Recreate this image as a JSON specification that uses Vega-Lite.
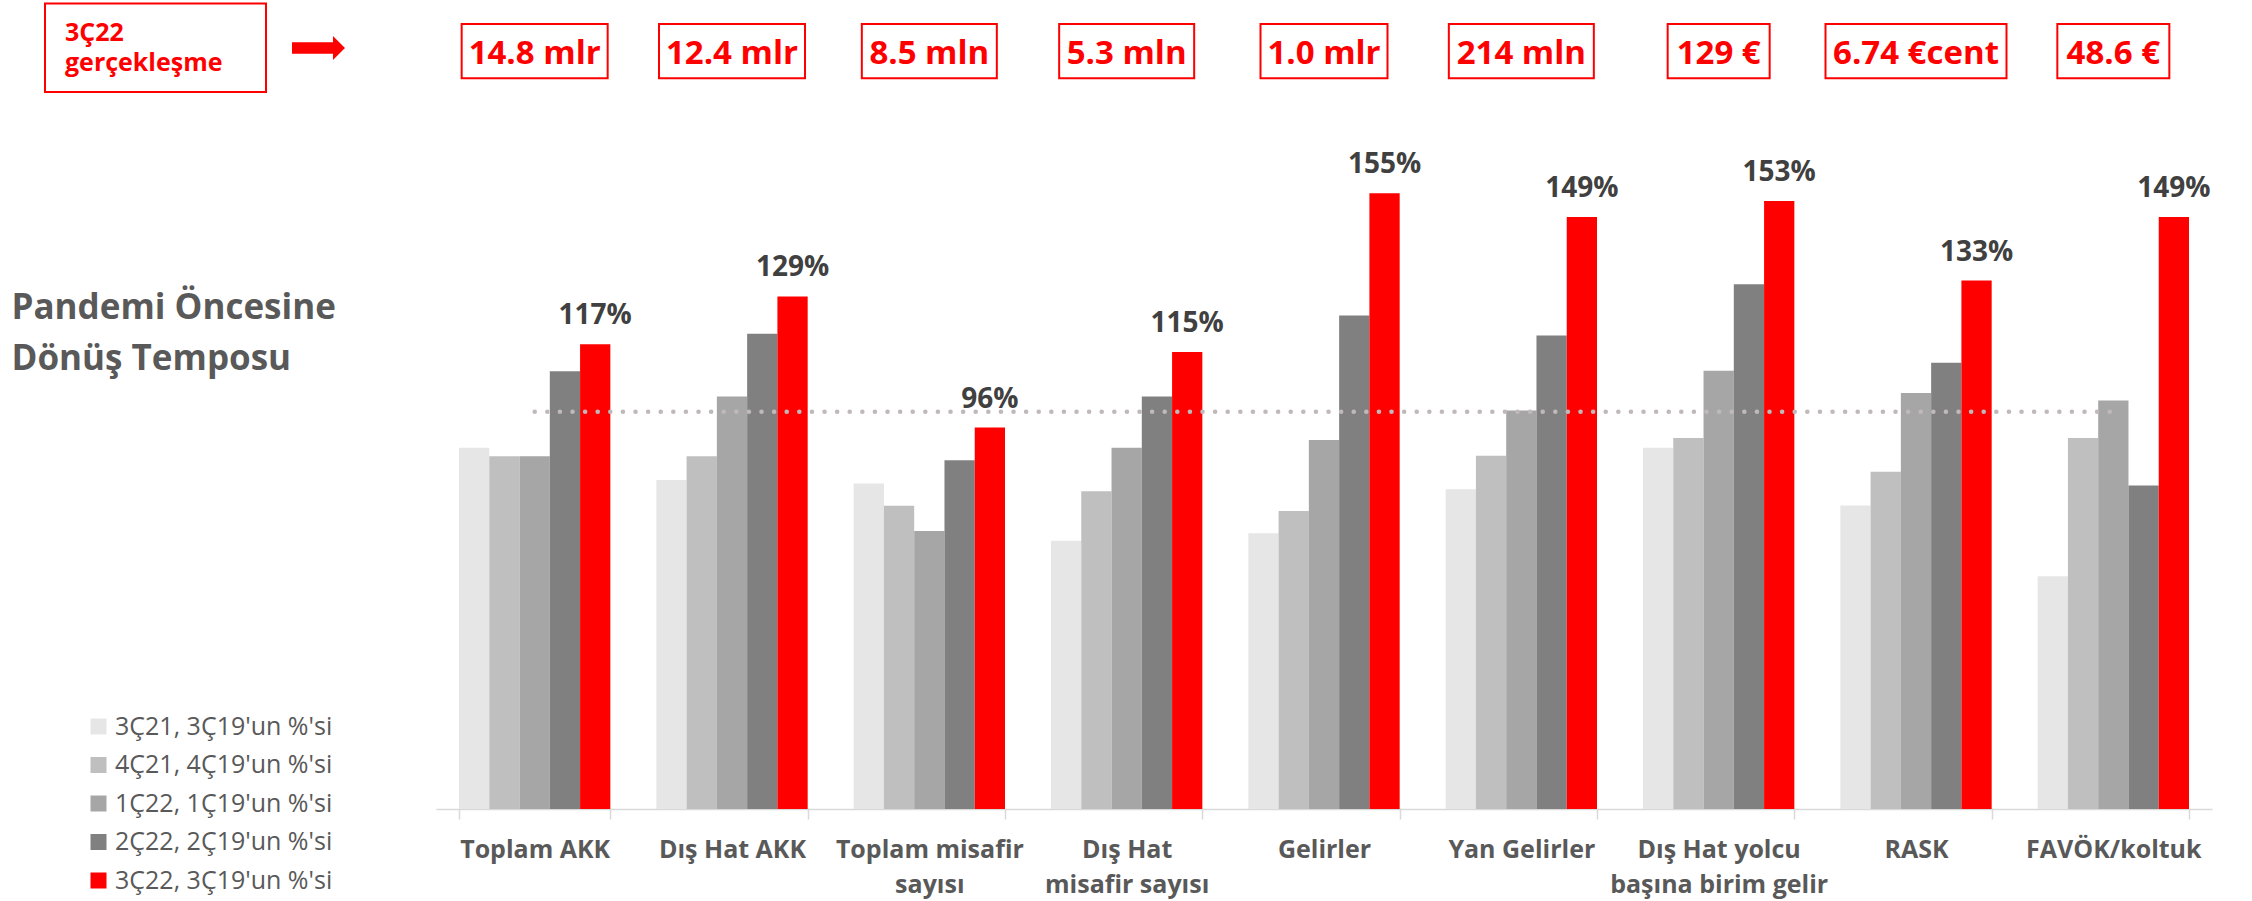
{
  "$schema": "https://vega.github.io/schema/vega-lite/v6.json",
  "width": 1776,
  "height": 809,
  "autosize": {"type": "none"},
  "padding": {"left": 436, "top": 0, "right": 40, "bottom": 92},
  "background": "white",
  "config": {"view": {"stroke": null}, "font": "Open Sans"},
  "datasets": {
    "oranlar": [
      {"kategori": "Toplam AKK", "seri": "3Ç21, 3Ç19'un %'si", "oran": 0.909},
      {"kategori": "Toplam AKK", "seri": "4Ç21, 4Ç19'un %'si", "oran": 0.888},
      {"kategori": "Toplam AKK", "seri": "1Ç22, 1Ç19'un %'si", "oran": 0.888},
      {"kategori": "Toplam AKK", "seri": "2Ç22, 2Ç19'un %'si", "oran": 1.102},
      {"kategori": "Toplam AKK", "seri": "3Ç22, 3Ç19'un %'si", "oran": 1.17},
      {"kategori": "Dış Hat AKK", "seri": "3Ç21, 3Ç19'un %'si", "oran": 0.828},
      {"kategori": "Dış Hat AKK", "seri": "4Ç21, 4Ç19'un %'si", "oran": 0.888},
      {"kategori": "Dış Hat AKK", "seri": "1Ç22, 1Ç19'un %'si", "oran": 1.038},
      {"kategori": "Dış Hat AKK", "seri": "2Ç22, 2Ç19'un %'si", "oran": 1.196},
      {"kategori": "Dış Hat AKK", "seri": "3Ç22, 3Ç19'un %'si", "oran": 1.29},
      {"kategori": "Toplam misafir sayısı", "seri": "3Ç21, 3Ç19'un %'si", "oran": 0.819},
      {"kategori": "Toplam misafir sayısı", "seri": "4Ç21, 4Ç19'un %'si", "oran": 0.763},
      {"kategori": "Toplam misafir sayısı", "seri": "1Ç22, 1Ç19'un %'si", "oran": 0.70},
      {"kategori": "Toplam misafir sayısı", "seri": "2Ç22, 2Ç19'un %'si", "oran": 0.878},
      {"kategori": "Toplam misafir sayısı", "seri": "3Ç22, 3Ç19'un %'si", "oran": 0.96},
      {"kategori": "Dış Hat misafir sayısı", "seri": "3Ç21, 3Ç19'un %'si", "oran": 0.675},
      {"kategori": "Dış Hat misafir sayısı", "seri": "4Ç21, 4Ç19'un %'si", "oran": 0.80},
      {"kategori": "Dış Hat misafir sayısı", "seri": "1Ç22, 1Ç19'un %'si", "oran": 0.909},
      {"kategori": "Dış Hat misafir sayısı", "seri": "2Ç22, 2Ç19'un %'si", "oran": 1.038},
      {"kategori": "Dış Hat misafir sayısı", "seri": "3Ç22, 3Ç19'un %'si", "oran": 1.15},
      {"kategori": "Gelirler", "seri": "3Ç21, 3Ç19'un %'si", "oran": 0.694},
      {"kategori": "Gelirler", "seri": "4Ç21, 4Ç19'un %'si", "oran": 0.75},
      {"kategori": "Gelirler", "seri": "1Ç22, 1Ç19'un %'si", "oran": 0.929},
      {"kategori": "Gelirler", "seri": "2Ç22, 2Ç19'un %'si", "oran": 1.242},
      {"kategori": "Gelirler", "seri": "3Ç22, 3Ç19'un %'si", "oran": 1.55},
      {"kategori": "Yan Gelirler", "seri": "3Ç21, 3Ç19'un %'si", "oran": 0.805},
      {"kategori": "Yan Gelirler", "seri": "4Ç21, 4Ç19'un %'si", "oran": 0.889},
      {"kategori": "Yan Gelirler", "seri": "1Ç22, 1Ç19'un %'si", "oran": 1.003},
      {"kategori": "Yan Gelirler", "seri": "2Ç22, 2Ç19'un %'si", "oran": 1.192},
      {"kategori": "Yan Gelirler", "seri": "3Ç22, 3Ç19'un %'si", "oran": 1.49},
      {"kategori": "Dış Hat yolcu başına birim gelir", "seri": "3Ç21, 3Ç19'un %'si", "oran": 0.909},
      {"kategori": "Dış Hat yolcu başına birim gelir", "seri": "4Ç21, 4Ç19'un %'si", "oran": 0.934},
      {"kategori": "Dış Hat yolcu başına birim gelir", "seri": "1Ç22, 1Ç19'un %'si", "oran": 1.103},
      {"kategori": "Dış Hat yolcu başına birim gelir", "seri": "2Ç22, 2Ç19'un %'si", "oran": 1.321},
      {"kategori": "Dış Hat yolcu başına birim gelir", "seri": "3Ç22, 3Ç19'un %'si", "oran": 1.53},
      {"kategori": "RASK", "seri": "3Ç21, 3Ç19'un %'si", "oran": 0.764},
      {"kategori": "RASK", "seri": "4Ç21, 4Ç19'un %'si", "oran": 0.849},
      {"kategori": "RASK", "seri": "1Ç22, 1Ç19'un %'si", "oran": 1.047},
      {"kategori": "RASK", "seri": "2Ç22, 2Ç19'un %'si", "oran": 1.123},
      {"kategori": "RASK", "seri": "3Ç22, 3Ç19'un %'si", "oran": 1.33},
      {"kategori": "FAVÖK/koltuk", "seri": "3Ç21, 3Ç19'un %'si", "oran": 0.586},
      {"kategori": "FAVÖK/koltuk", "seri": "4Ç21, 4Ç19'un %'si", "oran": 0.934},
      {"kategori": "FAVÖK/koltuk", "seri": "1Ç22, 1Ç19'un %'si", "oran": 1.028},
      {"kategori": "FAVÖK/koltuk", "seri": "2Ç22, 2Ç19'un %'si", "oran": 0.814},
      {"kategori": "FAVÖK/koltuk", "seri": "3Ç22, 3Ç19'un %'si", "oran": 1.49}
    ],
    "gerceklesme": [
      {"kategori": "Toplam AKK", "deger": 14.8, "etiket": "14.8 mlr"},
      {"kategori": "Dış Hat AKK", "deger": 12.4, "etiket": "12.4 mlr"},
      {"kategori": "Toplam misafir sayısı", "deger": 8.5, "etiket": "8.5 mln"},
      {"kategori": "Dış Hat misafir sayısı", "deger": 5.3, "etiket": "5.3 mln"},
      {"kategori": "Gelirler", "deger": 1.0, "etiket": "1.0 mlr"},
      {"kategori": "Yan Gelirler", "deger": 214, "etiket": "214 mln"},
      {"kategori": "Dış Hat yolcu başına birim gelir", "deger": 129, "etiket": "129 €"},
      {"kategori": "RASK", "deger": 6.74, "etiket": "6.74 €cent"},
      {"kategori": "FAVÖK/koltuk", "deger": 48.6, "etiket": "48.6 €"}
    ],
    "referans": [
      {"kategori": "Toplam AKK", "oran": 1},
      {"kategori": "FAVÖK/koltuk", "oran": 1}
    ]
  },
  "layer": [
    {
      "data": {"name": "oranlar"},
      "mark": {"type": "bar"},
      "encoding": {
        "x": {
          "field": "kategori", "type": "nominal", "title": null,
          "sort": ["Toplam AKK", "Dış Hat AKK", "Toplam misafir sayısı", "Dış Hat misafir sayısı", "Gelirler", "Yan Gelirler", "Dış Hat yolcu başına birim gelir", "RASK", "FAVÖK/koltuk"],
          "scale": {"domain": ["Toplam AKK", "Dış Hat AKK", "Toplam misafir sayısı", "Dış Hat misafir sayısı", "Gelirler", "Yan Gelirler", "Dış Hat yolcu başına birim gelir", "RASK", "FAVÖK/koltuk"], "paddingInner": 0.233, "paddingOuter": 0.1165},
          "axis": {
            "domain": true, "domainColor": "#D9D9D9", "domainWidth": 1.5,
            "ticks": true, "tickBand": "extent", "tickColor": "#D9D9D9", "tickSize": 10, "tickWidth": 1.5,
            "grid": false, "labelAngle": 0, "labelFont": "Open Sans", "labelFontSize": 25, "labelFontWeight": "bold",
            "labelColor": "#595959", "labelPadding": 18, "labelLineHeight": 35, "labelBaseline": "top",
            "labelLimit": 400, "labelOverlap": false, "labelFlush": false,
            "labelExpr": "datum.label == 'Toplam misafir sayısı' ? ['Toplam misafir', 'sayısı'] : datum.label == 'Dış Hat misafir sayısı' ? ['Dış Hat', 'misafir sayısı'] : datum.label == 'Dış Hat yolcu başına birim gelir' ? ['Dış Hat yolcu', 'başına birim gelir'] : datum.label"
          }
        },
        "xOffset": {
          "field": "seri", "type": "nominal",
          "scale": {"domain": ["3Ç21, 3Ç19'un %'si", "4Ç21, 4Ç19'un %'si", "1Ç22, 1Ç19'un %'si", "2Ç22, 2Ç19'un %'si", "3Ç22, 3Ç19'un %'si"], "paddingInner": 0, "paddingOuter": 0}
        },
        "y": {
          "field": "oran", "type": "quantitative",
          "scale": {"domain": [0, 2.0362], "nice": false, "zero": true},
          "title": ["Pandemi Öncesine", "Dönüş Temposu"],
          "axis": {
            "domain": false, "ticks": false, "labels": false, "grid": false,
            "titleAngle": 0, "titleAlign": "left", "titleBaseline": "alphabetic",
            "titleX": -425, "titleY": 318, "titleFont": "Open Sans", "titleFontSize": 35,
            "titleFontWeight": "bold", "titleColor": "#595959", "titleLineHeight": 51
          }
        },
        "color": {
          "field": "seri", "type": "nominal",
          "scale": {
            "domain": ["3Ç21, 3Ç19'un %'si", "4Ç21, 4Ç19'un %'si", "1Ç22, 1Ç19'un %'si", "2Ç22, 2Ç19'un %'si", "3Ç22, 3Ç19'un %'si"],
            "range": ["#E6E6E6", "#BFBFBF", "#A6A6A6", "#808080", "#FF0000"]
          },
          "legend": {
            "title": null, "orient": "none", "legendX": -350, "legendY": 714, "direction": "vertical",
            "symbolType": "square", "symbolSize": 256, "symbolStrokeWidth": 0,
            "labelFont": "Open Sans", "labelFontSize": 25, "labelColor": "#595959",
            "labelOffset": 4, "rowPadding": 12.5, "labelLimit": 400, "padding": 0
          }
        }
      }
    },
    {
      "data": {"name": "referans"},
      "mark": {"type": "line", "strokeDash": [0.1, 12.5], "strokeCap": "round", "strokeWidth": 4.5, "color": "#BFB9BB"},
      "encoding": {
        "x": {"field": "kategori", "type": "nominal", "title": null},
        "y": {"field": "oran", "type": "quantitative"}
      }
    },
    {
      "data": {"name": "oranlar"},
      "transform": [{"filter": {"field": "seri", "equal": "3Ç22, 3Ç19'un %'si"}}],
      "mark": {"type": "text", "baseline": "alphabetic", "align": "center", "dy": -20, "fontSize": 28, "fontWeight": "bold", "font": "Open Sans", "color": "#404040"},
      "encoding": {
        "x": {"field": "kategori", "type": "nominal", "title": null},
        "xOffset": {"field": "seri", "type": "nominal"},
        "y": {"field": "oran", "type": "quantitative"},
        "text": {"field": "oran", "type": "quantitative", "format": ".0%"}
      }
    },
    {
      "data": {"name": "gerceklesme"},
      "mark": {"type": "bar", "filled": false, "stroke": "#FF0000", "strokeWidth": 2},
      "encoding": {
        "x": {"field": "kategori", "type": "nominal", "title": null},
        "y": {"datum": 1.9758, "type": "quantitative"},
        "y2": {"datum": 1.8392},
        "size": {
          "field": "deger", "type": "quantitative", "legend": null,
          "scale": {"type": "threshold", "domain": [3, 6, 7, 10, 20, 100, 150], "range": [127, 135, 181, 135, 146, 112, 102, 145]}
        }
      }
    },
    {
      "data": {"name": "gerceklesme"},
      "mark": {"type": "text", "baseline": "alphabetic", "align": "center", "fontSize": 33, "fontWeight": "bold", "font": "Open Sans", "color": "#FF0000"},
      "encoding": {
        "x": {"field": "kategori", "type": "nominal", "title": null},
        "y": {"datum": 1.8744, "type": "quantitative"},
        "text": {"field": "etiket", "type": "nominal"}
      }
    },
    {
      "data": {"values": [{"baslik": "3Ç22 gerçekleşme"}]},
      "mark": {"type": "rect", "filled": false, "stroke": "#FF0000", "strokeWidth": 2},
      "encoding": {
        "x": {"value": -391},
        "x2": {"value": -170},
        "y": {"value": 3.5},
        "y2": {"value": 92}
      }
    },
    {
      "data": {"values": [{"baslik": "3Ç22 gerçekleşme"}]},
      "mark": {"type": "text", "text": ["3Ç22", "gerçekleşme"], "lineHeight": 30.3, "align": "left", "baseline": "alphabetic", "fontSize": 25, "fontWeight": "bold", "font": "Open Sans", "color": "#FF0000"},
      "encoding": {
        "x": {"value": -371},
        "y": {"value": 40.7}
      }
    },
    {
      "data": {"values": [{"baslik": "ok"}]},
      "mark": {"type": "point", "shape": "M -1 -0.22 L 0.547 -0.22 L 0.547 -0.453 L 1 0 L 0.547 0.453 L 0.547 0.22 L -1 0.22 Z", "filled": true, "color": "#FF0000", "strokeWidth": 0, "opacity": 1},
      "encoding": {
        "x": {"value": -117.5},
        "y": {"value": 48},
        "size": {"value": 2809}
      }
    }
  ]
}
